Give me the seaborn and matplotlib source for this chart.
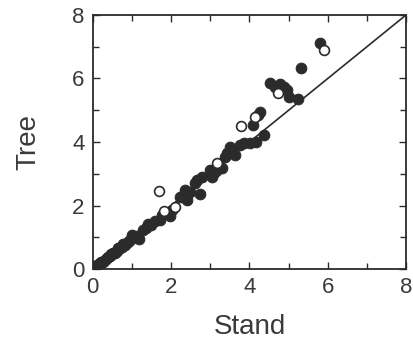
import matplotlib
matplotlib.use("Agg")
import matplotlib.pyplot as plt
import seaborn as sns
import pandas as pd
from matplotlib.ticker import MultipleLocator

# Filled points: stand-level vs tree-level estimates
stand_filled = [5.80, 5.31, 4.53, 4.78, 4.89, 4.95, 5.02, 5.25, 4.65, 4.27, 4.23, 4.09,
                4.36, 4.18, 4.01, 3.85, 3.76, 3.50, 3.42, 3.55, 3.62, 3.38, 3.29, 3.15,
                3.08, 3.04, 2.99, 2.78, 2.65, 2.74, 2.60, 2.48, 2.38, 2.35, 2.31, 2.23,
                2.40, 2.02, 1.97, 1.88, 1.78, 1.72, 1.59, 1.50, 1.41, 1.35, 1.29, 1.17,
                1.00, 0.96, 0.90, 0.83, 0.78, 0.74, 0.70, 0.64, 0.61, 0.56, 0.53, 0.47,
                0.44, 0.40, 0.36, 0.31, 0.27, 0.22, 0.19, 0.14, 0.10, 0.06, 1.08, 1.12]
tree_filled = [7.13, 6.32, 5.87, 5.83, 5.72, 5.64, 5.43, 5.35, 5.72, 4.96, 4.85, 4.54,
               4.22, 4.01, 3.96, 3.96, 3.91, 3.85, 3.64, 3.70, 3.60, 3.54, 3.17, 3.08,
               3.01, 2.90, 3.12, 2.91, 2.80, 2.36, 2.70, 2.43, 2.44, 2.49, 2.28, 2.26,
               2.18, 1.87, 1.66, 1.76, 1.70, 1.55, 1.53, 1.39, 1.42, 1.30, 1.24, 0.94,
               1.08, 0.92, 0.86, 0.77, 0.80, 0.70, 0.66, 0.68, 0.58, 0.52, 0.50, 0.47,
               0.40, 0.38, 0.34, 0.30, 0.24, 0.22, 0.19, 0.13, 0.12, 0.06, 1.00, 1.05]

# Open points
stand_open = [5.91, 4.74, 4.14, 3.78, 3.16, 1.70, 2.09, 1.83]
tree_open = [6.90, 5.53, 4.78, 4.50, 3.33, 2.47, 1.97, 1.84]

x_ticks = [0, 2, 4, 6, 8]
y_ticks = [0, 2, 4, 6, 8]

sns.set_style("ticks")
plt.rcParams["font.family"] = ["Liberation Sans", "DejaVu Sans"]

fig = plt.figure(figsize=(4.14, 3.39), dpi=100)
ax = fig.add_axes([0.224, 0.206, 0.757, 0.750])

ink = "#2b2b2b"
text_ink = "#3a3a3a"

# 1:1 reference line
ax.plot([0, 8], [0, 8], color=ink, lw=1.2, zorder=1)

df_f = pd.DataFrame({"Stand": stand_filled, "Tree": tree_filled})
df_o = pd.DataFrame({"Stand": stand_open, "Tree": tree_open})

sns.scatterplot(data=df_f, x="Stand", y="Tree", ax=ax, s=58, color=ink,
                edgecolor=ink, linewidth=0.8, zorder=3)
sns.scatterplot(data=df_o, x="Stand", y="Tree", ax=ax, s=50, color="white",
                edgecolor=ink, linewidth=1.2, zorder=4)

ax.set_xlim(0, 8)
ax.set_ylim(0, 8)
ax.set_xticks(x_ticks)
ax.set_yticks(y_ticks)
ax.xaxis.set_minor_locator(MultipleLocator(1))
ax.yaxis.set_minor_locator(MultipleLocator(1))
ax.tick_params(which="both", direction="in", top=True, right=True,
               color=ink, width=1.0)
ax.tick_params(which="major", length=5, labelsize=16, labelcolor=text_ink, pad=6)
ax.tick_params(which="minor", length=4)

for sp in ax.spines.values():
    sp.set_color(ink)
    sp.set_linewidth(1.3)

ax.set_xlabel("Stand", fontsize=20, color=text_ink, labelpad=11)
ax.set_ylabel("Tree", fontsize=20, color=text_ink, labelpad=22)

fig.savefig("out.png", dpi=100)
